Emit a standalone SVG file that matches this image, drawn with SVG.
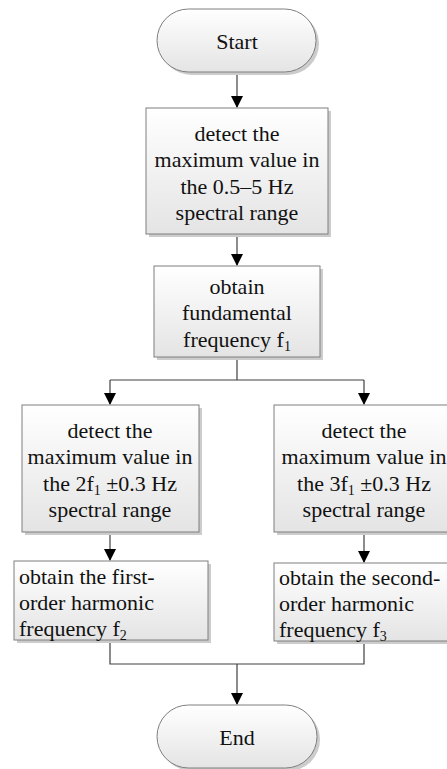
<svg xmlns="http://www.w3.org/2000/svg" width="447" height="769" viewBox="0 0 447 769">
<defs>
<linearGradient id="g" x1="0" y1="0" x2="0" y2="1">
<stop offset="0" stop-color="#ffffff"/>
<stop offset="1" stop-color="#e4e4e4"/>
</linearGradient>
<marker id="ah" markerWidth="12" markerHeight="12" refX="11" refY="6" orient="auto" markerUnits="userSpaceOnUse">
<path d="M0,0 L12,6 L0,12 Z" fill="#000"/>
</marker>
<style>
.box{fill:url(#g);stroke:#7f7f7f;stroke-width:1}
.sh{fill:#cccccc}
.t{font-family:"Liberation Serif","Times New Roman",serif;font-size:22px;fill:#111}
.c{text-anchor:middle}
.s{font-size:14px}
.ln{fill:none;stroke:#404040;stroke-width:1.2}
</style>
</defs>
<g id="connectors">
<path class="ln" d="M237,72 V107" marker-end="url(#ah)"/>
<path class="ln" d="M237,235 V265" marker-end="url(#ah)"/>
<path class="ln" d="M237,357 V380 M110,380 H364"/>
<path class="ln" d="M110,380 V404" marker-end="url(#ah)"/>
<path class="ln" d="M364,380 V404" marker-end="url(#ah)"/>
<path class="ln" d="M110,532 V560" marker-end="url(#ah)"/>
<path class="ln" d="M364,532 V562" marker-end="url(#ah)"/>
<path class="ln" d="M110,640 V664 H364 V641 M237,664 V704" marker-end="url(#ah)"/>
</g>
<g id="start">
<rect class="sh" x="160" y="12" width="159" height="63" rx="31.5"/>
<rect class="box" x="157" y="9" width="159" height="63" rx="31.5"/>
<text class="t c" x="237" y="49">Start</text>
</g>
<g id="detect1">
<rect class="sh" x="149" y="111" width="182" height="126"/>
<rect class="box" x="146" y="108" width="182" height="126"/>
<text class="t c" x="237" y="141">detect the</text>
<text class="t c" x="237" y="167">maximum value in</text>
<text class="t c" x="237" y="194">the 0.5–5 Hz</text>
<text class="t c" x="237" y="220">spectral range</text>
</g>
<g id="fundamental">
<rect class="sh" x="157" y="269" width="166" height="91"/>
<rect class="box" x="154" y="266" width="166" height="91"/>
<text class="t c" x="237" y="294">obtain</text>
<text class="t c" x="237" y="320">fundamental</text>
<text class="t c" x="237" y="347">frequency f<tspan class="s" dy="4">1</tspan></text>
</g>
<g id="detect2">
<rect class="sh" x="25" y="408" width="177" height="127"/>
<rect class="box" x="22" y="405" width="177" height="127"/>
<text class="t c" x="110" y="438">detect the</text>
<text class="t c" x="110" y="464">maximum value in</text>
<text class="t c" x="110" y="491">the 2f<tspan class="s" dy="4">1</tspan><tspan dy="-4"> ±0.3 Hz</tspan></text>
<text class="t c" x="110" y="517">spectral range</text>
</g>
<g id="detect3">
<rect class="sh" x="277" y="408" width="177" height="127"/>
<rect class="box" x="274" y="405" width="177" height="127"/>
<text class="t c" x="364" y="438">detect the</text>
<text class="t c" x="364" y="464">maximum value in</text>
<text class="t c" x="364" y="491">the 3f<tspan class="s" dy="4">1</tspan><tspan dy="-4"> ±0.3 Hz</tspan></text>
<text class="t c" x="364" y="517">spectral range</text>
</g>
<g id="harm1">
<rect class="sh" x="17" y="564" width="194" height="79"/>
<rect class="box" x="14" y="561" width="194" height="79"/>
<text class="t" x="19" y="584">obtain the first-</text>
<text class="t" x="19" y="610">order harmonic</text>
<text class="t" x="19" y="636">frequency f<tspan class="s" dy="4">2</tspan></text>
</g>
<g id="harm2">
<rect class="sh" x="277" y="566" width="177" height="78"/>
<rect class="box" x="274" y="563" width="177" height="78"/>
<text class="t" x="279" y="585">obtain the second-</text>
<text class="t" x="279" y="611">order harmonic</text>
<text class="t" x="279" y="637">frequency f<tspan class="s" dy="4">3</tspan></text>
</g>
<g id="end">
<rect class="sh" x="160" y="708" width="160" height="63" rx="31.5"/>
<rect class="box" x="157" y="705" width="160" height="63" rx="31.5"/>
<text class="t c" x="237" y="745">End</text>
</g>
</svg>
